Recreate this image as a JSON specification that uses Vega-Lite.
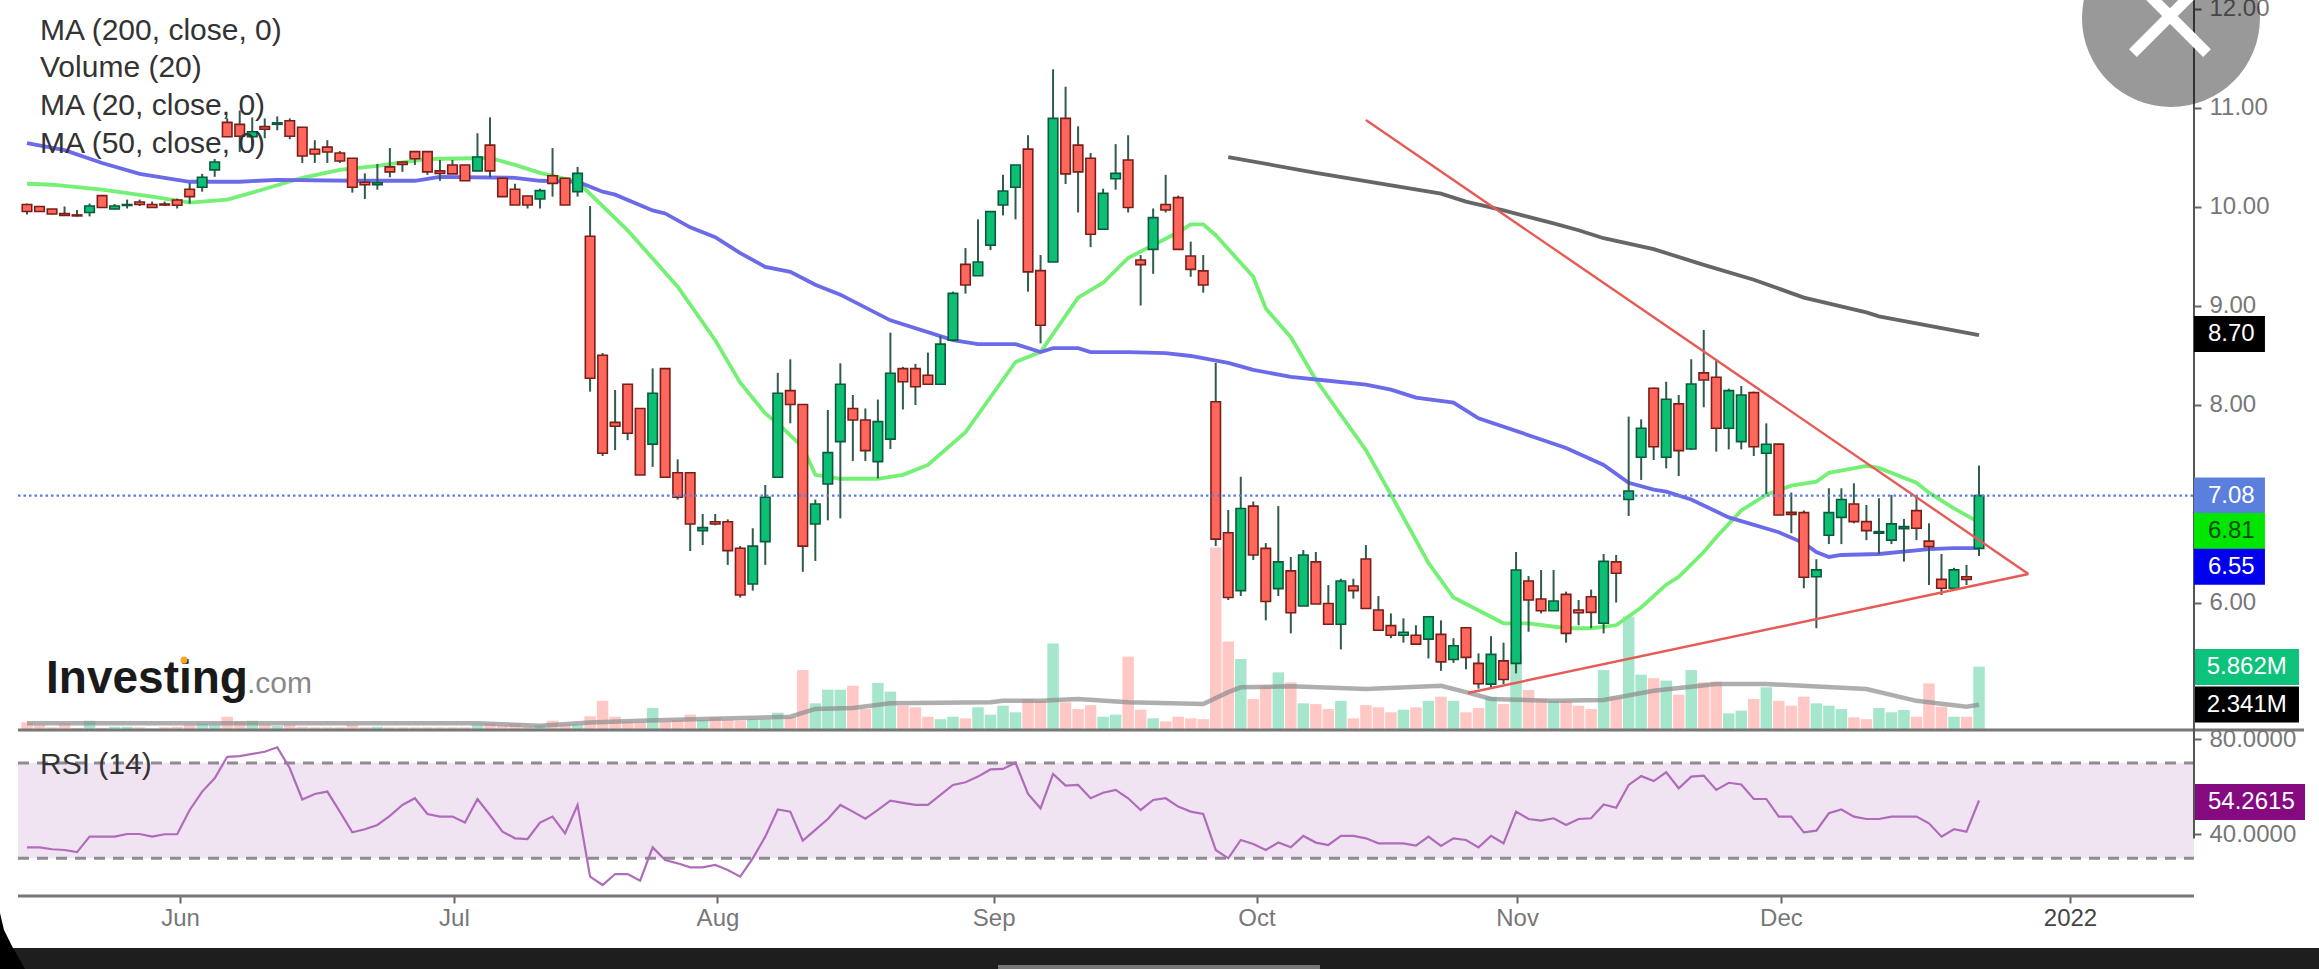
{
"$schema":"https://vega.github.io/schema/vega-lite/v6.json",
"width":2319,"height":969,"autosize":{"type":"none"},"padding":0,"background":"white",
"config":{"view":{"stroke":null},"font":"Liberation Sans"},
"datasets":{
"one":[{"id":1}],
"bars":[
{"bar":0,"open":10.02,"high":10.03,"low":9.92,"close":9.95,"volume":0.71,"rsi":34.6},
{"bar":1,"open":10.0,"high":10.0,"low":9.95,"close":9.95,"volume":0.5,"rsi":34.6},
{"bar":2,"open":9.975,"high":9.975,"low":9.92,"close":9.925,"volume":0.25,"rsi":33.8},
{"bar":3,"open":9.93,"high":10.0,"low":9.905,"close":9.91,"volume":0.6,"rsi":33.5},
{"bar":4,"open":9.915,"high":9.965,"low":9.9,"close":9.905,"volume":0.2,"rsi":32.6},
{"bar":5,"open":9.94,"high":10.03,"low":9.9,"close":10.005,"volume":0.86,"rsi":39.1},
{"bar":6,"open":10.11,"high":10.11,"low":9.99,"close":9.99,"volume":0.2,"rsi":39.1},
{"bar":7,"open":9.975,"high":10.025,"low":9.97,"close":10.005,"volume":0.3,"rsi":39.1},
{"bar":8,"open":10.01,"high":10.07,"low":9.98,"close":10.02,"volume":0.3,"rsi":40.2},
{"bar":9,"open":10.045,"high":10.07,"low":10.005,"close":10.02,"volume":0.25,"rsi":40.2},
{"bar":10,"open":10.02,"high":10.05,"low":9.985,"close":9.99,"volume":0.15,"rsi":39.1},
{"bar":11,"open":10.025,"high":10.05,"low":10.01,"close":10.015,"volume":0.25,"rsi":40.1},
{"bar":12,"open":10.066,"high":10.08,"low":9.98,"close":10.012,"volume":0.3,"rsi":40.1},
{"bar":13,"open":10.175,"high":10.235,"low":10.03,"close":10.1,"volume":0.5,"rsi":50.3},
{"bar":14,"open":10.195,"high":10.33,"low":10.15,"close":10.295,"volume":0.6,"rsi":58},
{"bar":15,"open":10.37,"high":10.48,"low":10.3,"close":10.45,"volume":0.5,"rsi":63.6},
{"bar":16,"open":10.85,"high":10.89,"low":10.7,"close":10.705,"volume":1.23,"rsi":72.6},
{"bar":17,"open":10.83,"high":10.97,"low":10.55,"close":10.71,"volume":0.8,"rsi":72.9},
{"bar":18,"open":10.705,"high":10.9,"low":10.62,"close":10.755,"volume":0.86,"rsi":73.8},
{"bar":19,"open":10.807,"high":10.89,"low":10.69,"close":10.78,"volume":0.5,"rsi":74.7},
{"bar":20,"open":10.83,"high":10.91,"low":10.77,"close":10.845,"volume":0.37,"rsi":76.6},
{"bar":21,"open":10.867,"high":10.89,"low":10.68,"close":10.71,"volume":0.5,"rsi":67.8},
{"bar":22,"open":10.8,"high":10.8,"low":10.44,"close":10.51,"volume":0.3,"rsi":54.7},
{"bar":23,"open":10.578,"high":10.67,"low":10.44,"close":10.53,"volume":0.25,"rsi":57},
{"bar":24,"open":10.6,"high":10.67,"low":10.44,"close":10.55,"volume":0.25,"rsi":58},
{"bar":25,"open":10.54,"high":10.56,"low":10.44,"close":10.46,"volume":0.25,"rsi":49.6},
{"bar":26,"open":10.487,"high":10.49,"low":10.14,"close":10.194,"volume":0.46,"rsi":40.9},
{"bar":27,"open":10.245,"high":10.335,"low":10.076,"close":10.22,"volume":0.25,"rsi":42.2},
{"bar":28,"open":10.22,"high":10.43,"low":10.17,"close":10.24,"volume":0.3,"rsi":44},
{"bar":29,"open":10.4,"high":10.59,"low":10.295,"close":10.35,"volume":0.25,"rsi":47.8},
{"bar":30,"open":10.45,"high":10.46,"low":10.35,"close":10.426,"volume":0.25,"rsi":52.4},
{"bar":31,"open":10.554,"high":10.56,"low":10.42,"close":10.483,"volume":0.25,"rsi":55.2},
{"bar":32,"open":10.554,"high":10.56,"low":10.32,"close":10.35,"volume":0.25,"rsi":48.6},
{"bar":33,"open":10.36,"high":10.47,"low":10.26,"close":10.335,"volume":0.25,"rsi":47.5},
{"bar":34,"open":10.42,"high":10.47,"low":10.33,"close":10.33,"volume":0.25,"rsi":47.5},
{"bar":35,"open":10.42,"high":10.42,"low":10.26,"close":10.26,"volume":0.25,"rsi":45},
{"bar":36,"open":10.36,"high":10.74,"low":10.36,"close":10.5,"volume":0.5,"rsi":54.9},
{"bar":37,"open":10.62,"high":10.9,"low":10.295,"close":10.36,"volume":0.6,"rsi":48.2},
{"bar":38,"open":10.285,"high":10.285,"low":10.1,"close":10.1,"volume":0.43,"rsi":41.2},
{"bar":39,"open":10.174,"high":10.23,"low":10.015,"close":10.015,"volume":0.6,"rsi":38.4},
{"bar":40,"open":10.106,"high":10.11,"low":9.98,"close":10.015,"volume":0.3,"rsi":38.1},
{"bar":41,"open":10.076,"high":10.18,"low":9.98,"close":10.16,"volume":0.43,"rsi":45},
{"bar":42,"open":10.31,"high":10.59,"low":10.1,"close":10.234,"volume":0.86,"rsi":47.5},
{"bar":43,"open":10.285,"high":10.29,"low":10.015,"close":10.015,"volume":0.5,"rsi":40.5},
{"bar":44,"open":10.15,"high":10.4,"low":10.1,"close":10.335,"volume":0.5,"rsi":52.4},
{"bar":45,"open":9.7,"high":10.005,"low":8.13,"close":8.265,"volume":1.27,"rsi":22.3},
{"bar":46,"open":8.497,"high":8.52,"low":7.48,"close":7.507,"volume":2.7,"rsi":18.8},
{"bar":47,"open":7.82,"high":8.147,"low":7.54,"close":7.78,"volume":1.23,"rsi":23.4},
{"bar":48,"open":8.204,"high":8.21,"low":7.64,"close":7.71,"volume":0.77,"rsi":23.4},
{"bar":49,"open":7.96,"high":7.96,"low":7.288,"close":7.288,"volume":0.7,"rsi":20.6},
{"bar":50,"open":7.6,"high":8.365,"low":7.37,"close":8.113,"volume":2.04,"rsi":34.6},
{"bar":51,"open":8.362,"high":8.362,"low":7.265,"close":7.265,"volume":0.77,"rsi":29.3},
{"bar":52,"open":7.31,"high":7.446,"low":7.04,"close":7.063,"volume":0.93,"rsi":27.9},
{"bar":53,"open":7.31,"high":7.31,"low":6.52,"close":6.793,"volume":1.42,"rsi":26.2},
{"bar":54,"open":6.726,"high":6.894,"low":6.58,"close":6.756,"volume":0.93,"rsi":26.2},
{"bar":55,"open":6.815,"high":6.894,"low":6.78,"close":6.793,"volume":1.17,"rsi":27.2},
{"bar":56,"open":6.815,"high":6.84,"low":6.38,"close":6.524,"volume":0.95,"rsi":25.1},
{"bar":57,"open":6.548,"high":6.57,"low":6.05,"close":6.076,"volume":0.86,"rsi":22.3},
{"bar":58,"open":6.187,"high":6.75,"low":6.12,"close":6.57,"volume":1.0,"rsi":30},
{"bar":59,"open":6.615,"high":7.187,"low":6.38,"close":7.063,"volume":1.0,"rsi":39.1},
{"bar":60,"open":7.265,"high":8.32,"low":7.265,"close":8.113,"volume":1.6,"rsi":50.5},
{"bar":61,"open":8.14,"high":8.456,"low":7.81,"close":8.0,"volume":1.2,"rsi":49.6},
{"bar":62,"open":8.0,"high":8.0,"low":6.31,"close":6.57,"volume":5.55,"rsi":37.4},
{"bar":63,"open":6.793,"high":7.04,"low":6.42,"close":6.995,"volume":2.47,"rsi":41.9},
{"bar":64,"open":7.197,"high":7.945,"low":6.83,"close":7.514,"volume":3.73,"rsi":46.5},
{"bar":65,"open":7.625,"high":8.416,"low":6.85,"close":8.204,"volume":3.73,"rsi":52.4},
{"bar":66,"open":7.96,"high":8.096,"low":7.43,"close":7.844,"volume":4.1,"rsi":49.6},
{"bar":67,"open":7.844,"high":7.96,"low":7.43,"close":7.534,"volume":1.94,"rsi":46.6},
{"bar":68,"open":7.423,"high":8.05,"low":7.254,"close":7.827,"volume":4.35,"rsi":50.3},
{"bar":69,"open":7.65,"high":8.726,"low":7.55,"close":8.315,"volume":3.55,"rsi":54.2},
{"bar":70,"open":8.362,"high":8.38,"low":7.95,"close":8.23,"volume":2.25,"rsi":53.3},
{"bar":71,"open":8.362,"high":8.41,"low":7.995,"close":8.18,"volume":2.1,"rsi":52.4},
{"bar":72,"open":8.295,"high":8.524,"low":8.204,"close":8.204,"volume":1.23,"rsi":52.4},
{"bar":73,"open":8.204,"high":8.69,"low":8.204,"close":8.61,"volume":1.0,"rsi":56.6},
{"bar":74,"open":8.65,"high":9.14,"low":8.65,"close":9.123,"volume":1.23,"rsi":60.8},
{"bar":75,"open":9.416,"high":9.58,"low":9.12,"close":9.207,"volume":1.08,"rsi":61.9},
{"bar":76,"open":9.3,"high":9.87,"low":9.3,"close":9.44,"volume":2.1,"rsi":64.3},
{"bar":77,"open":9.61,"high":9.95,"low":9.56,"close":9.948,"volume":1.42,"rsi":67.3},
{"bar":78,"open":10.015,"high":10.32,"low":9.91,"close":10.157,"volume":2.25,"rsi":67.5},
{"bar":79,"open":10.194,"high":10.42,"low":9.87,"close":10.42,"volume":1.64,"rsi":70.1},
{"bar":80,"open":10.58,"high":10.72,"low":9.14,"close":9.34,"volume":2.87,"rsi":57},
{"bar":81,"open":9.352,"high":9.51,"low":8.618,"close":8.8,"volume":2.7,"rsi":51},
{"bar":82,"open":9.44,"high":11.386,"low":9.44,"close":10.89,"volume":8.0,"rsi":65.4},
{"bar":83,"open":10.89,"high":11.21,"low":10.227,"close":10.33,"volume":2.56,"rsi":60.5},
{"bar":84,"open":10.62,"high":10.81,"low":9.94,"close":10.35,"volume":1.94,"rsi":60.8},
{"bar":85,"open":10.487,"high":10.54,"low":9.59,"close":9.72,"volume":2.3,"rsi":55.2},
{"bar":86,"open":9.77,"high":10.18,"low":9.77,"close":10.133,"volume":1.23,"rsi":57.5},
{"bar":87,"open":10.28,"high":10.63,"low":10.17,"close":10.335,"volume":1.42,"rsi":58.7},
{"bar":88,"open":10.47,"high":10.72,"low":9.94,"close":9.99,"volume":6.8,"rsi":55.2},
{"bar":89,"open":9.46,"high":9.51,"low":9.0,"close":9.413,"volume":1.88,"rsi":50.3},
{"bar":90,"open":9.567,"high":9.98,"low":9.32,"close":9.888,"volume":1.08,"rsi":54.5},
{"bar":91,"open":10.02,"high":10.32,"low":9.94,"close":9.965,"volume":0.8,"rsi":55.2},
{"bar":92,"open":10.09,"high":10.11,"low":9.567,"close":9.567,"volume":1.23,"rsi":51.7},
{"bar":93,"open":9.5,"high":9.645,"low":9.29,"close":9.365,"volume":1.08,"rsi":49.6},
{"bar":94,"open":9.35,"high":9.51,"low":9.13,"close":9.207,"volume":1.0,"rsi":48.6},
{"bar":95,"open":8.028,"high":8.42,"low":6.57,"close":6.64,"volume":16.9,"rsi":33.5},
{"bar":96,"open":6.705,"high":6.934,"low":6.025,"close":6.05,"volume":8.2,"rsi":30},
{"bar":97,"open":6.12,"high":7.27,"low":6.065,"close":6.95,"volume":6.57,"rsi":37.7},
{"bar":98,"open":6.974,"high":7.02,"low":6.43,"close":6.48,"volume":2.87,"rsi":36},
{"bar":99,"open":6.547,"high":6.6,"low":5.82,"close":6.01,"volume":4.1,"rsi":33.5},
{"bar":100,"open":6.14,"high":6.974,"low":6.065,"close":6.41,"volume":5.34,"rsi":36.6},
{"bar":101,"open":6.32,"high":6.46,"low":5.688,"close":5.897,"volume":4.41,"rsi":34.6},
{"bar":102,"open":5.964,"high":6.53,"low":5.964,"close":6.48,"volume":2.47,"rsi":39.4},
{"bar":103,"open":6.41,"high":6.51,"low":5.985,"close":5.985,"volume":2.4,"rsi":36.6},
{"bar":104,"open":5.99,"high":6.176,"low":5.78,"close":5.78,"volume":1.94,"rsi":35.6},
{"bar":105,"open":5.78,"high":6.24,"low":5.526,"close":6.217,"volume":2.7,"rsi":39.4},
{"bar":106,"open":6.166,"high":6.24,"low":6.04,"close":6.12,"volume":1.08,"rsi":39.4},
{"bar":107,"open":6.44,"high":6.58,"low":5.94,"close":5.94,"volume":2.3,"rsi":38.4},
{"bar":108,"open":5.924,"high":6.065,"low":5.72,"close":5.72,"volume":2.1,"rsi":36.3},
{"bar":109,"open":5.766,"high":5.89,"low":5.64,"close":5.67,"volume":1.64,"rsi":36.3},
{"bar":110,"open":5.67,"high":5.84,"low":5.594,"close":5.7,"volume":1.88,"rsi":36.3},
{"bar":111,"open":5.67,"high":5.77,"low":5.58,"close":5.58,"volume":2.1,"rsi":35.3},
{"bar":112,"open":5.63,"high":5.856,"low":5.435,"close":5.856,"volume":2.7,"rsi":39.1},
{"bar":113,"open":5.678,"high":5.82,"low":5.31,"close":5.4,"volume":3.09,"rsi":35.2},
{"bar":114,"open":5.425,"high":5.64,"low":5.39,"close":5.563,"volume":2.7,"rsi":38.4},
{"bar":115,"open":5.745,"high":5.75,"low":5.325,"close":5.446,"volume":1.64,"rsi":37.7},
{"bar":116,"open":5.385,"high":5.486,"low":5.13,"close":5.18,"volume":2.04,"rsi":34.6},
{"bar":117,"open":5.176,"high":5.66,"low":5.13,"close":5.476,"volume":3.09,"rsi":39.4},
{"bar":118,"open":5.41,"high":5.594,"low":5.176,"close":5.223,"volume":2.4,"rsi":36.3},
{"bar":119,"open":5.385,"high":6.51,"low":5.284,"close":6.328,"volume":7.25,"rsi":49.6},
{"bar":120,"open":6.217,"high":6.267,"low":5.705,"close":6.025,"volume":3.7,"rsi":46.5},
{"bar":121,"open":6.035,"high":6.328,"low":5.89,"close":5.917,"volume":2.87,"rsi":45.8},
{"bar":122,"open":5.917,"high":6.328,"low":5.917,"close":6.015,"volume":2.7,"rsi":46.8},
{"bar":123,"open":6.082,"high":6.11,"low":5.594,"close":5.688,"volume":2.7,"rsi":44},
{"bar":124,"open":5.924,"high":6.025,"low":5.77,"close":5.897,"volume":2.25,"rsi":46.5},
{"bar":125,"open":6.058,"high":6.13,"low":5.74,"close":5.9,"volume":1.94,"rsi":46.8},
{"bar":126,"open":5.79,"high":6.49,"low":5.688,"close":6.415,"volume":5.55,"rsi":52.6},
{"bar":127,"open":6.41,"high":6.48,"low":6.0,"close":6.295,"volume":3.09,"rsi":51.2},
{"bar":128,"open":7.04,"high":7.878,"low":6.874,"close":7.127,"volume":10.5,"rsi":60.8},
{"bar":129,"open":7.467,"high":7.85,"low":7.238,"close":7.76,"volume":5.12,"rsi":64.5},
{"bar":130,"open":8.164,"high":8.17,"low":7.44,"close":7.574,"volume":4.8,"rsi":62.4},
{"bar":131,"open":7.467,"high":8.23,"low":7.355,"close":8.053,"volume":4.57,"rsi":66.1},
{"bar":132,"open":8.006,"high":8.096,"low":7.278,"close":7.534,"volume":3.27,"rsi":59.4},
{"bar":133,"open":7.551,"high":8.457,"low":7.54,"close":8.207,"volume":5.55,"rsi":64.3},
{"bar":134,"open":8.32,"high":8.753,"low":7.972,"close":8.248,"volume":4.41,"rsi":64.7},
{"bar":135,"open":8.275,"high":8.457,"low":7.524,"close":7.76,"volume":4.47,"rsi":58.7},
{"bar":136,"open":7.76,"high":8.16,"low":7.547,"close":8.14,"volume":1.54,"rsi":61.7},
{"bar":137,"open":7.625,"high":8.187,"low":7.547,"close":8.096,"volume":1.79,"rsi":61},
{"bar":138,"open":8.12,"high":8.13,"low":7.48,"close":7.574,"volume":2.87,"rsi":54.9},
{"bar":139,"open":7.507,"high":7.81,"low":7.096,"close":7.598,"volume":3.95,"rsi":54.9},
{"bar":140,"open":7.6,"high":7.6,"low":6.884,"close":6.884,"volume":2.7,"rsi":47.5},
{"bar":141,"open":6.91,"high":7.11,"low":6.7,"close":6.89,"volume":2.25,"rsi":47.5},
{"bar":142,"open":6.908,"high":6.93,"low":6.144,"close":6.255,"volume":3.09,"rsi":40.9},
{"bar":143,"open":6.26,"high":6.437,"low":5.74,"close":6.33,"volume":2.47,"rsi":41.6},
{"bar":144,"open":6.68,"high":7.154,"low":6.59,"close":6.908,"volume":2.25,"rsi":48.9},
{"bar":145,"open":6.86,"high":7.154,"low":6.59,"close":7.04,"volume":1.94,"rsi":50.5},
{"bar":146,"open":6.995,"high":7.204,"low":6.8,"close":6.817,"volume":1.17,"rsi":47.5},
{"bar":147,"open":6.817,"high":6.985,"low":6.63,"close":6.726,"volume":1.0,"rsi":46.5},
{"bar":148,"open":6.7,"high":7.053,"low":6.49,"close":6.716,"volume":2.04,"rsi":46.5},
{"bar":149,"open":6.63,"high":7.086,"low":6.59,"close":6.794,"volume":1.64,"rsi":47.5},
{"bar":150,"open":6.746,"high":6.844,"low":6.413,"close":6.766,"volume":1.85,"rsi":47.5},
{"bar":151,"open":6.928,"high":7.086,"low":6.63,"close":6.75,"volume":1.23,"rsi":47.5},
{"bar":152,"open":6.62,"high":6.8,"low":6.177,"close":6.564,"volume":4.32,"rsi":44.7},
{"bar":153,"open":6.234,"high":6.49,"low":6.076,"close":6.144,"volume":2.16,"rsi":39.1},
{"bar":154,"open":6.144,"high":6.35,"low":6.14,"close":6.33,"volume":1.23,"rsi":42.2},
{"bar":155,"open":6.26,"high":6.38,"low":6.177,"close":6.234,"volume":1.23,"rsi":41.2},
{"bar":156,"open":6.547,"high":7.383,"low":6.47,"close":7.08,"volume":5.862,"rsi":54.26}
],
"ma20":[{"bar":0,"ma":10.23},{"bar":2,"ma":10.22},{"bar":6,"ma":10.17},{"bar":10,"ma":10.1},{"bar":13,"ma":10.04},{"bar":16,"ma":10.07},{"bar":18,"ma":10.14},{"bar":22,"ma":10.29},{"bar":25,"ma":10.37},{"bar":28,"ma":10.41},{"bar":32,"ma":10.48},{"bar":37,"ma":10.49},{"bar":39,"ma":10.42},{"bar":41,"ma":10.34},{"bar":44,"ma":10.25},{"bar":48,"ma":9.76},{"bar":52,"ma":9.19},{"bar":55,"ma":8.65},{"bar":57,"ma":8.22},{"bar":59,"ma":7.91},{"bar":60,"ma":7.81},{"bar":62,"ma":7.57},{"bar":63,"ma":7.29},{"bar":65,"ma":7.25},{"bar":68,"ma":7.25},{"bar":70,"ma":7.29},{"bar":72,"ma":7.39},{"bar":75,"ma":7.72},{"bar":79,"ma":8.43},{"bar":81,"ma":8.53},{"bar":84,"ma":9.08},{"bar":86,"ma":9.23},{"bar":88,"ma":9.48},{"bar":92,"ma":9.74},{"bar":93,"ma":9.82},{"bar":94,"ma":9.82},{"bar":95,"ma":9.71},{"bar":98,"ma":9.29},{"bar":99,"ma":8.97},{"bar":101,"ma":8.68},{"bar":103,"ma":8.25},{"bar":107,"ma":7.54},{"bar":109,"ma":7.09},{"bar":112,"ma":6.4},{"bar":114,"ma":6.05},{"bar":118,"ma":5.79},{"bar":120,"ma":5.79},{"bar":123,"ma":5.74},{"bar":125,"ma":5.74},{"bar":127,"ma":5.77},{"bar":129,"ma":5.95},{"bar":131,"ma":6.18},{"bar":132,"ma":6.26},{"bar":134,"ma":6.51},{"bar":135,"ma":6.66},{"bar":137,"ma":6.93},{"bar":139,"ma":7.09},{"bar":141,"ma":7.18},{"bar":143,"ma":7.22},{"bar":144,"ma":7.31},{"bar":147,"ma":7.38},{"bar":148,"ma":7.36},{"bar":151,"ma":7.21},{"bar":152,"ma":7.11},{"bar":154,"ma":6.95},{"bar":155,"ma":6.88},{"bar":156,"ma":6.81}],
"ma50":[{"bar":0,"ma":10.64},{"bar":3,"ma":10.57},{"bar":6,"ma":10.44},{"bar":9,"ma":10.33},{"bar":13,"ma":10.25},{"bar":17,"ma":10.25},{"bar":20,"ma":10.27},{"bar":26,"ma":10.26},{"bar":31,"ma":10.26},{"bar":33,"ma":10.3},{"bar":39,"ma":10.29},{"bar":41,"ma":10.26},{"bar":44,"ma":10.25},{"bar":46,"ma":10.15},{"bar":47,"ma":10.12},{"bar":50,"ma":9.96},{"bar":51,"ma":9.93},{"bar":53,"ma":9.79},{"bar":55,"ma":9.69},{"bar":57,"ma":9.53},{"bar":59,"ma":9.39},{"bar":61,"ma":9.34},{"bar":63,"ma":9.21},{"bar":65,"ma":9.11},{"bar":69,"ma":8.85},{"bar":74,"ma":8.65},{"bar":76,"ma":8.61},{"bar":79,"ma":8.61},{"bar":81,"ma":8.53},{"bar":82,"ma":8.57},{"bar":84,"ma":8.57},{"bar":85,"ma":8.53},{"bar":88,"ma":8.53},{"bar":91,"ma":8.52},{"bar":93,"ma":8.49},{"bar":96,"ma":8.42},{"bar":98,"ma":8.35},{"bar":101,"ma":8.28},{"bar":104,"ma":8.24},{"bar":107,"ma":8.2},{"bar":109,"ma":8.15},{"bar":111,"ma":8.07},{"bar":114,"ma":8.02},{"bar":116,"ma":7.86},{"bar":120,"ma":7.69},{"bar":123,"ma":7.56},{"bar":126,"ma":7.39},{"bar":128,"ma":7.21},{"bar":130,"ma":7.14},{"bar":131,"ma":7.12},{"bar":133,"ma":7.04},{"bar":136,"ma":6.86},{"bar":140,"ma":6.71},{"bar":142,"ma":6.6},{"bar":143,"ma":6.51},{"bar":144,"ma":6.46},{"bar":145,"ma":6.48},{"bar":148,"ma":6.49},{"bar":152,"ma":6.54},{"bar":154,"ma":6.55},{"bar":156,"ma":6.55}],
"ma200":[{"bar":96,"ma":10.5},{"bar":103,"ma":10.34},{"bar":113,"ma":10.13},{"bar":115,"ma":10.05},{"bar":118,"ma":9.96},{"bar":122,"ma":9.83},{"bar":124,"ma":9.76},{"bar":126,"ma":9.68},{"bar":130,"ma":9.57},{"bar":134,"ma":9.41},{"bar":138,"ma":9.26},{"bar":142,"ma":9.08},{"bar":147,"ma":8.93},{"bar":148,"ma":8.89},{"bar":156,"ma":8.7}],
"volMA":[{"bar":0,"ma":0.62},{"bar":36,"ma":0.62},{"bar":41,"ma":0.4},{"bar":45,"ma":0.7},{"bar":49,"ma":0.86},{"bar":54,"ma":1.02},{"bar":61,"ma":1.23},{"bar":63,"ma":1.95},{"bar":66,"ma":2.04},{"bar":69,"ma":2.47},{"bar":77,"ma":2.56},{"bar":78,"ma":2.7},{"bar":81,"ma":2.7},{"bar":84,"ma":2.87},{"bar":88,"ma":2.56},{"bar":94,"ma":2.4},{"bar":96,"ma":3.5},{"bar":97,"ma":3.95},{"bar":101,"ma":4.04},{"bar":107,"ma":3.8},{"bar":113,"ma":4.1},{"bar":115,"ma":3.5},{"bar":117,"ma":2.87},{"bar":122,"ma":2.7},{"bar":126,"ma":2.78},{"bar":130,"ma":3.64},{"bar":135,"ma":4.26},{"bar":139,"ma":4.26},{"bar":147,"ma":3.8},{"bar":151,"ma":2.7},{"bar":155,"ma":2.16},{"bar":156,"ma":2.341}],
"trend":[{"line":"falling","bar":107.0,"price":10.874},{"line":"falling","bar":159.95,"price":6.288},{"line":"rising","bar":115.16,"price":5.086},{"line":"rising","bar":159.95,"price":6.288}],
"priceTags":[{"series":"MA 200","label":"8.70","at":8.712},{"series":"Last","label":"7.08","at":7.08},{"series":"MA 20","label":"6.81","at":6.722},{"series":"MA 50","label":"6.55","at":6.36}],
"volTags":[{"series":"Volume","label":"5.862M","at":5.83},{"series":"Volume MA","label":"2.341M","at":2.36}],
"rsiTags":[{"series":"RSI","label":"54.2615","at":53.6}],
"studies":[{"name":"MA (200, close, 0)","at":11.773},{"name":"Volume (20)","at":11.4},{"name":"MA (20, close, 0)","at":11.015},{"name":"MA (50, close, 0)","at":10.63},{"name":"RSI (14)","at":4.358}],
"corner":[{"bar":-2.158,"edge":7.1},{"bar":-1.838,"edge":-0.08},{"bar":-1.119,"edge":-7.6},{"bar":-0.16,"edge":-16.45}]
},
"data":{"name":"bars"},
"encoding":{"x":{"type":"quantitative","scale":{"domain":[-2.158,183.17],"nice":false,"zero":false,"padding":0},
 "axis":{"orient":"bottom","offset":-73,"domain":false,"grid":false,"title":null,"values":[12.23,34.12,55.18,77.25,98.26,119.08,140.17,163.27],
 "labelExpr":"datum.value<13?'Jun':datum.value<35?'Jul':datum.value<56?'Aug':datum.value<78?'Sep':datum.value<99?'Oct':datum.value<120?'Nov':datum.value<141?'Dec':'2022'",
 "tickSize":7,"tickWidth":2,"tickColor":"#666","labelFontSize":24,"labelFont":"Liberation Sans","labelColor":{"condition":{"test":"datum.value>160","value":"#444"},"value":"#777"},"labelPadding":3,"labelOverlap":false,"labelFlush":false}}},
"layer":[
{"encoding":{"y":{"type":"quantitative","scale":{"domain":[-16.45,390.2],"nice":false,"zero":false},"axis":{"orient":"right","offset":-125,"domain":false,"grid":false,"title":null,"values":[80,40],"format":".4f","tickSize":7,"tickWidth":2,"tickColor":"#666","labelFontSize":24,"labelFont":"Liberation Sans","labelColor":"#777","labelPadding":8,"labelOverlap":false}}},
"layer":[
 {"data":{"name":"one"},"mark":{"type":"rect","color":"#f0e4f2"},"encoding":{"x":{"datum":-0.72},"x2":{"datum":173.18},"y":{"datum":70},"y2":{"datum":30}}},
 {"data":{"name":"one"},"mark":{"type":"rule","color":"#8f8a93","strokeWidth":3,"strokeDash":[11,8]},"encoding":{"x":{"datum":-0.72},"x2":{"datum":173.18},"y":{"datum":70}}},
 {"data":{"name":"one"},"mark":{"type":"rule","color":"#8f8a93","strokeWidth":3,"strokeDash":[11,8]},"encoding":{"x":{"datum":-0.72},"x2":{"datum":173.18},"y":{"datum":30}}},
 {"mark":{"type":"line","color":"#b06cbb","strokeWidth":2.2},"encoding":{"x":{"field":"bar"},"y":{"field":"rsi"}}},
 {"data":{"name":"one"},"mark":{"type":"rule","color":"#777","strokeWidth":3},"encoding":{"x":{"datum":-0.72},"x2":{"datum":173.18},"y":{"datum":14.2}}},
 {"data":{"name":"rsiTags"},"mark":{"type":"rule","strokeWidth":36},"encoding":{"x":{"datum":173.18},"x2":{"datum":182.05},"y":{"field":"at"},"color":{"field":"series","type":"nominal","scale":{"domain":["MA 200","Last","MA 20","MA 50","Volume","Volume MA","RSI"],"range":["#000000","#5b7fdd","#00e600","#0000ee","#0dc27a","#000000","#85097f"]},"legend":null}}},
 {"data":{"name":"rsiTags"},"mark":{"type":"text","align":"left","baseline":"middle","fontSize":24,"font":"Liberation Sans","color":"white"},"encoding":{"x":{"datum":174.3},"y":{"field":"at"},"text":{"field":"label"}}},
 {"data":{"name":"one"},"mark":{"type":"rect","color":"#1e1e1e"},"encoding":{"x":{"datum":-2.158},"x2":{"datum":183.17},"y":{"datum":-7.6},"y2":{"datum":-16.45}}},
 {"data":{"name":"one"},"mark":{"type":"rect","color":"#777777"},"encoding":{"x":{"datum":77.6},"x2":{"datum":103.33},"y":{"datum":-14.77},"y2":{"datum":-16.45}}},
 {"data":{"name":"corner"},"mark":{"type":"area","color":"#000000","orient":"vertical"},"encoding":{"x":{"field":"bar"},"y":{"field":"edge"},"y2":{"datum":-16.45}}}
]},
{"encoding":{"y":{"type":"quantitative","scale":{"domain":[-22.13,67.59],"nice":false,"zero":false},"axis":null}},
"layer":[
 {"mark":{"type":"bar","orient":"vertical","size":11.5,"fillOpacity":0.38,"strokeOpacity":0.45,"strokeWidth":1},"encoding":{"x":{"field":"bar"},"y":{"field":"volume","stack":null},"color":{"condition":{"test":"datum.close>=datum.open","value":"#14bd78"},"value":"#ff6f66"}}},
 {"data":{"name":"volMA"},"mark":{"type":"line","color":"#8c8c8c","strokeWidth":4.5,"opacity":0.7},"encoding":{"x":{"field":"bar"},"y":{"field":"ma"}}},
 {"data":{"name":"one"},"mark":{"type":"rule","color":"#777","strokeWidth":3},"encoding":{"x":{"datum":-0.72},"x2":{"datum":181.97},"y":{"datum":0}}},
 {"data":{"name":"volTags"},"mark":{"type":"rule","strokeWidth":36},"encoding":{"x":{"datum":173.18},"x2":{"datum":181.57},"y":{"field":"at"},"color":{"field":"series","type":"nominal","legend":null}}},
 {"data":{"name":"volTags"},"mark":{"type":"text","align":"left","baseline":"middle","fontSize":24,"font":"Liberation Sans","color":"white"},"encoding":{"x":{"datum":174.2},"y":{"field":"at"},"text":{"field":"label"}}}
]},
{"encoding":{"y":{"type":"quantitative","scale":{"domain":[2.298,12.086],"nice":false,"zero":false},"axis":{"orient":"right","offset":-125,"domain":false,"grid":false,"title":null,"values":[6,8,9,10,11,12],"format":".2f","tickSize":7,"tickWidth":2,"tickColor":"#666","labelFontSize":24,"labelFont":"Liberation Sans","labelColor":"#777","labelPadding":8,"labelOverlap":false}}},
"layer":[
 {"data":{"name":"one"},"mark":{"type":"rule","color":"#555","strokeWidth":2},"encoding":{"x":{"datum":173.18},"y":{"datum":12.086},"y2":{"datum":3.615}}},
 {"data":{"name":"ma20"},"mark":{"type":"line","color":"#74f074","strokeWidth":3.8},"encoding":{"x":{"field":"bar"},"y":{"field":"ma"}}},
 {"data":{"name":"ma50"},"mark":{"type":"line","color":"#6b6bea","strokeWidth":3.8},"encoding":{"x":{"field":"bar"},"y":{"field":"ma"}}},
 {"data":{"name":"ma200"},"mark":{"type":"line","color":"#666666","strokeWidth":3.8},"encoding":{"x":{"field":"bar"},"y":{"field":"ma"}}},
 {"mark":{"type":"rule","color":"#2f5c4b","strokeWidth":2},"encoding":{"x":{"field":"bar"},"y":{"field":"high"},"y2":{"field":"low"}}},
 {"mark":{"type":"bar","orient":"vertical","size":9.5,"strokeWidth":1.6},"encoding":{"x":{"field":"bar"},"y":{"field":"open","stack":null},"y2":{"field":"close"},"fill":{"condition":{"test":"datum.close>=datum.open","value":"#0cbf73"},"value":"#ff675c"},"stroke":{"condition":{"test":"datum.close>=datum.open","value":"#0b5a40"},"value":"#7a1f18"}}},
 {"data":{"name":"trend"},"mark":{"type":"line","color":"#e85a55","strokeWidth":2.4},"encoding":{"x":{"field":"bar"},"y":{"field":"price"},"detail":{"field":"line"}}},
 {"data":{"name":"one"},"mark":{"type":"rule","color":"#5b7fdd","strokeWidth":2.2,"strokeDash":[2.5,3]},"encoding":{"x":{"datum":-0.72},"x2":{"datum":173.18},"y":{"datum":7.08}}},
 {"data":{"name":"priceTags"},"mark":{"type":"rule","strokeWidth":36},"encoding":{"x":{"datum":173.18},"x2":{"datum":178.85},"y":{"field":"at"},"color":{"field":"series","type":"nominal","legend":null}}},
 {"data":{"name":"priceTags"},"mark":{"type":"text","align":"left","baseline":"middle","fontSize":24,"font":"Liberation Sans"},"encoding":{"x":{"datum":174.3},"y":{"field":"at"},"text":{"field":"label"},"color":{"condition":{"test":"datum.series==='MA 20'","value":"#064d10"},"value":"white"}}},
 {"data":{"name":"studies"},"mark":{"type":"text","align":"left","baseline":"middle","fontSize":30,"font":"Liberation Sans","color":"#333"},"encoding":{"x":{"datum":1.04},"y":{"field":"at"},"text":{"field":"name"}}},
 {"data":{"values":[{"word":"Investing"}]},"mark":{"type":"text","align":"left","baseline":"alphabetic","fontSize":46,"fontWeight":"bold","font":"Liberation Sans","color":"#1a1a1a"},"encoding":{"x":{"datum":1.52},"y":{"datum":5.086},"text":{"field":"word"}}},
 {"data":{"values":[{"word":".com"}]},"mark":{"type":"text","align":"left","baseline":"alphabetic","fontSize":30,"font":"Liberation Sans","color":"#888"},"encoding":{"x":{"datum":17.58},"y":{"datum":5.086},"text":{"field":"word"}}},
 {"data":{"name":"one"},"mark":{"type":"point","filled":true,"shape":"circle","size":50,"color":"#f5a623","opacity":1},"encoding":{"x":{"datum":12.55},"y":{"datum":5.42}}},
 {"data":{"name":"one"},"mark":{"type":"point","filled":true,"shape":"circle","size":31684,"color":"#000000","opacity":0.4},"encoding":{"x":{"datum":171.34},"y":{"datum":11.904}}},
 {"data":{"name":"one"},"mark":{"type":"rule","color":"white","strokeWidth":11},"encoding":{"x":{"datum":168.3},"x2":{"datum":174.22},"y":{"datum":12.298},"y2":{"datum":11.55}}},
 {"data":{"name":"one"},"mark":{"type":"rule","color":"white","strokeWidth":11},"encoding":{"x":{"datum":174.22},"x2":{"datum":168.3},"y":{"datum":12.298},"y2":{"datum":11.55}}}
]}
],
"resolve":{"scale":{"y":"independent"}}
}
